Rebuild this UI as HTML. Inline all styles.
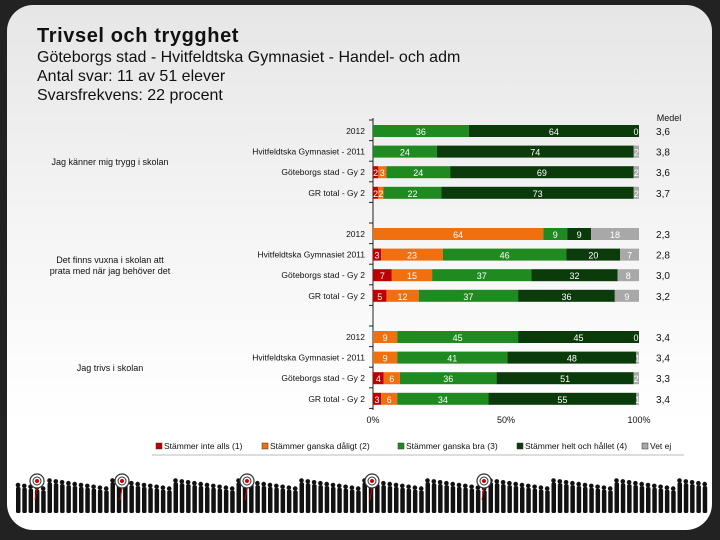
<!DOCTYPE html>
<html><head><meta charset="utf-8"><style>
body{margin:0;width:720px;height:540px;background:#222;overflow:hidden;font-family:"Liberation Sans",sans-serif;}
#card{position:absolute;left:7px;top:5px;width:705px;height:525px;border-radius:26px;background:linear-gradient(#e6e6e6,#f4f4f4 40%,#fff 80%);overflow:hidden}
.t{position:absolute;left:30px;color:#111;white-space:nowrap}
svg{position:absolute;left:0;top:0}
</style></head><body>
<div id="card">
<div class="t" style="top:20px;font-size:20px;font-weight:bold;letter-spacing:0.6px">Trivsel och trygghet</div>
<div class="t" style="top:44px;font-size:16px">Göteborgs stad - Hvitfeldtska Gymnasiet - Handel- och adm</div>
<div class="t" style="top:63px;font-size:16px">Antal svar: 11 av 51 elever</div>
<div class="t" style="top:82px;font-size:16px">Svarsfrekvens: 22 procent</div>
</div>
<svg id="chart" width="720" height="540"></svg>
<script>
const questions=["Jag känner mig trygg i skolan","Det finns vuxna i skolan att|prata med när jag behöver det","Jag trivs i skolan"];
const groups=["2012","Hvitfeldtska Gymnasiet - 2011","Göteborgs stad - Gy 2","GR total - Gy 2"];
const groups2=["2012","Hvitfeldtska Gymnasiet 2011","Göteborgs stad - Gy 2","GR total - Gy 2"];
const series=["Stämmer inte alls (1)","Stämmer ganska dåligt (2)","Stämmer ganska bra (3)","Stämmer helt och hållet (4)","Vet ej"];
const colors=["#c00000","#f07010","#1f8a1f","#0b3a0b","#a8a8a8"];
const values=[
 [[0,0,36,64,0],[0,0,24,74,2],[2,3,24,69,2],[2,2,22,73,2]],
 [[0,64,9,9,18],[3,23,46,20,7],[7,15,37,32,8],[5,12,37,36,9]],
 [[0,9,45,45,0],[0,9,41,48,1],[4,6,36,51,2],[3,6,34,55,1]]];
const medel=[["3,6","3,8","3,6","3,7"],["2,3","2,8","3,0","3,2"],["3,4","3,4","3,3","3,4"]];
const ticks=[0,50,100];
const NS="http://www.w3.org/2000/svg",svg=document.getElementById('chart');
function el(t,a,p){const e=document.createElementNS(NS,t);for(const k in a)e.setAttribute(k,a[k]);(p||svg).appendChild(e);return e;}
const x0=373,x1=639;const xs=v=>x0+(x1-x0)*v/100;
const rowY=(q,g)=>125+q*103+g*20.6;
el('line',{x1:x0,y1:118,x2:x0,y2:410,stroke:'#222'});
el('text',{x:669,y:121,'font-size':9,'text-anchor':'middle',fill:'#111'}).textContent='Medel';
questions.forEach((q,qi)=>{
 const lines=q.split('|');const cy=rowY(qi,1.5)+6;
 lines.forEach((l,li)=>{const t=el('text',{x:110,y:cy+li*11-(lines.length-1)*5+3,'font-size':9,'text-anchor':'middle',fill:'#111'});t.textContent=l;
 });
 for(let k=0;k<=4;k++)el('line',{x1:x0-4,x2:x0,y1:rowY(qi,k)-5,y2:rowY(qi,k)-5,stroke:'#222'});
 values[qi].forEach((row,gi)=>{
  const y=rowY(qi,gi);const sum=row.reduce((a,b)=>a+b,0);let acc=0;
  const lab=el('text',{x:365,y:y+9,'font-size':8.5,'text-anchor':'end',fill:'#111'});lab.textContent=(qi==1?groups2:groups)[gi];
  
  row.forEach((v,si)=>{
   const a=xs(acc/sum*100),b=xs((acc+v)/sum*100);acc+=v;
   if(v>0){const r=el('rect',{x:a,y:y,width:b-a,height:12,fill:colors[si]});
    }
   if(v>0){const t=el('text',{x:(a+b)/2,y:y+10,'font-size':9,'text-anchor':'middle',fill:'#fff'});t.textContent=v;}
   else if(si==0||si==4){const t=el('text',{x:si==0?a+3:a-3,y:y+10,'font-size':9,'text-anchor':'middle',fill:'#fff'});t.textContent=v;}
  });
  const m=el('text',{x:663,y:y+10,'font-size':10,'text-anchor':'middle',fill:'#111'});m.textContent=medel[qi][gi];
  
 });
});
ticks.forEach(t=>{const e=el('text',{x:xs(t),y:423,'font-size':9,'text-anchor':'middle',fill:'#111'});e.textContent=t+'%';
 });
const lx=[156,262,398,517,642];
series.forEach((s,i)=>{const g=el('g',{});
 el('rect',{x:lx[i],y:443,width:6,height:6,fill:colors[i],stroke:'#333','stroke-width':0.5},g);
 const t=el('text',{x:lx[i]+8,y:449,'font-size':8.5,fill:'#111'},g);t.textContent=s;});
el('line',{x1:152,x2:684,y1:455,y2:455,stroke:'#bbb'});
const d=el('g',{fill:'#111'});
for(let x=16;x<706;x+=6.3){const h=22+((x*7)%9);el('circle',{cx:x+2,cy:513-h-2,r:2.3},d);el('rect',{x:x,y:513-h,width:4.5,height:h,rx:1.5},d);}
[37,122,247,372,484].forEach(x=>{const g=el('g',{});
 el('circle',{cx:x,cy:481,r:7,fill:'#fff',stroke:'#333','stroke-width':1.2},g);el('circle',{cx:x,cy:481,r:4,fill:'none',stroke:'#333'},g);
 el('circle',{cx:x,cy:481,r:2,fill:'#c00'},g);el('line',{x1:x,y1:488,x2:x-2,y2:500,stroke:'#c00'},g);});
</script>
</body></html>
